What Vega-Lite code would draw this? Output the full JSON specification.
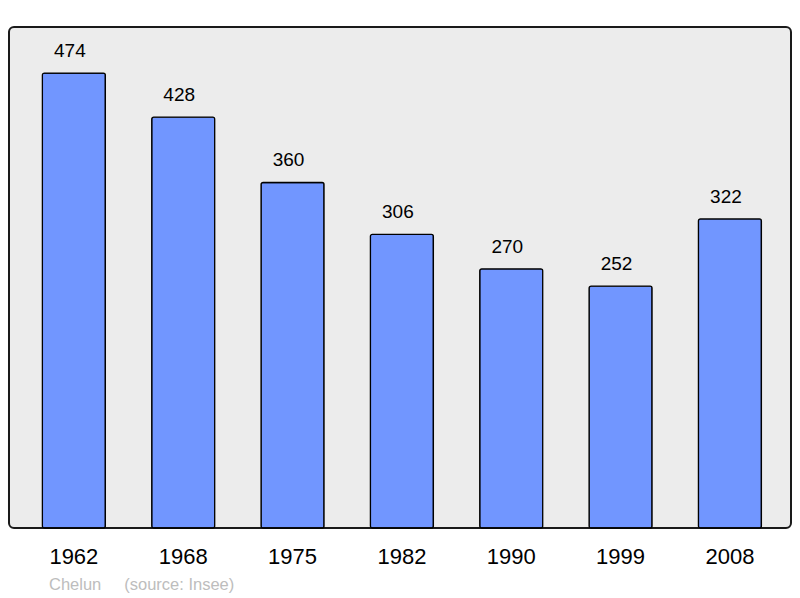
{
  "$schema": "https://vega.github.io/schema/vega-lite/v6.json",
  "width": 782,
  "height": 501,
  "autosize": "none",
  "padding": {"left": 9, "top": 27, "right": 9, "bottom": 70},
  "background": "#ffffff",
  "config": {
    "view": {"fill": "#ececec", "stroke": "#1a1a1a", "strokeWidth": 2, "cornerRadius": 5},
    "font": "Liberation Sans"
  },
  "title": {
    "text": "Chelun\u00a0\u00a0\u00a0\u00a0 (source: Insee)",
    "orient": "bottom",
    "anchor": "start",
    "dx": 40,
    "offset": 10,
    "fontSize": 16.5,
    "fontWeight": "normal",
    "color": "#bdbdbd",
    "font": "Liberation Sans"
  },
  "data": {
    "values": [
      {"year": "1962", "pop": 474},
      {"year": "1968", "pop": 428},
      {"year": "1975", "pop": 360},
      {"year": "1982", "pop": 306},
      {"year": "1990", "pop": 270},
      {"year": "1999", "pop": 252},
      {"year": "2008", "pop": 322}
    ]
  },
  "encoding": {
    "x": {
      "field": "year",
      "type": "ordinal",
      "scale": {"paddingInner": 0.424, "paddingOuter": 0.288, "align": 0.53},
      "axis": {
        "title": null,
        "labelAngle": 0,
        "labelFontSize": 22,
        "labelColor": "#000000",
        "labelPadding": 18,
        "ticks": false,
        "domain": false,
        "grid": false
      }
    },
    "y": {
      "field": "pop",
      "type": "quantitative",
      "scale": {"domain": [0, 522], "nice": false, "zero": true},
      "axis": null
    }
  },
  "layer": [
    {
      "mark": {"type": "bar", "fill": "#7196ff", "stroke": "#000000", "strokeWidth": 1.3, "cornerRadius": 2}
    },
    {
      "mark": {"type": "text", "baseline": "alphabetic", "dy": -16, "dx": -4, "fontSize": 19, "color": "#000000"},
      "encoding": {"text": {"field": "pop", "type": "quantitative"}}
    }
  ]
}
